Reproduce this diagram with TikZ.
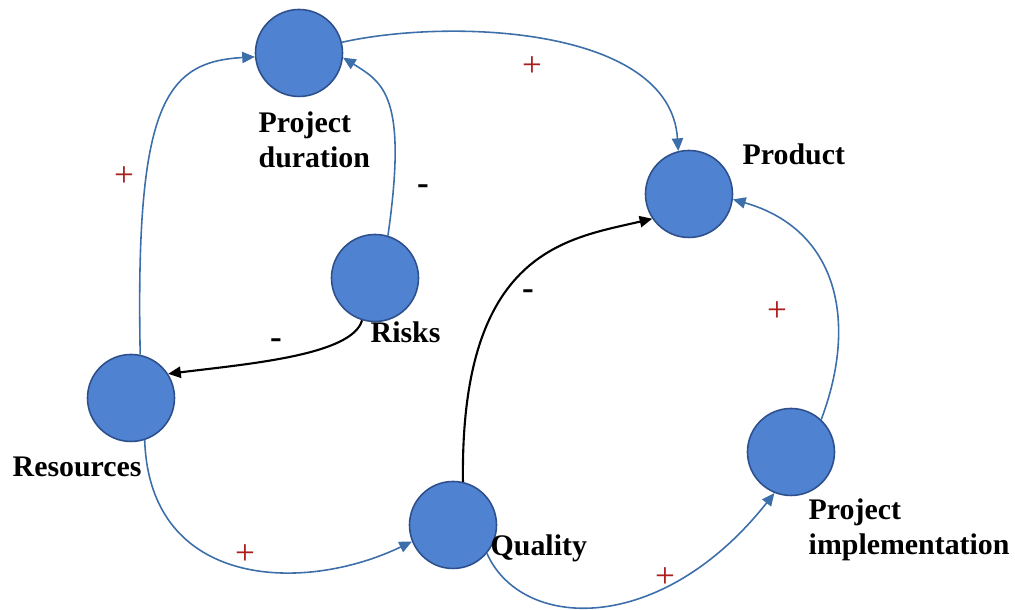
\documentclass[tikz,border=0pt]{standalone}
\usepackage{fontspec}
\setmainfont{Liberation Serif}
\usetikzlibrary{arrows.meta}

\definecolor{nodefill}{RGB}{80,130,210}
\definecolor{nodeline}{RGB}{45,80,140}
\definecolor{linkblue}{RGB}{60,110,170}
\definecolor{signred}{RGB}{170,30,30}

\begin{document}
\begin{tikzpicture}[
    factor/.style={circle, draw=nodeline, fill=nodefill, line width=0.45pt,
      minimum size=0.87cm, inner sep=0},
    poslink/.style={draw=linkblue, line width=0.45pt,
      -{Triangle[length=3.6pt,width=3.2pt]}},
    neglink/.style={draw=black, line width=0.6pt,
      -{Triangle[length=3.6pt,width=3.2pt]}},
    lbl/.style={font=\fontsize{8.5}{10}\selectfont\bfseries, inner sep=0,
      align=left, anchor=base west},
    plus/.style={text=signred, font=\fontsize{10}{10}\selectfont, inner sep=0},
    minus/.style={font=\fontsize{10}{10}\selectfont\bfseries, inner sep=0}
  ]
  \useasboundingbox (0,0) rectangle (10.15,6.10);

  % factors
  \node[factor] (dur)  at (2.99,5.57) {};
  \node[factor] (prod) at (6.89,4.16) {};
  \node[factor] (risk) at (3.75,3.32) {};
  \node[factor] (res)  at (1.31,2.12) {};
  \node[factor] (qual) at (4.53,0.85) {};
  \node[factor] (impl) at (7.91,1.58) {};

  % names (base = last line)
  \node[lbl] (durname)  at (2.58,4.42) {Project\\duration};
  \node[lbl] (prodname) at (7.42,4.45) {Product};
  \node[lbl] (riskname) at (3.70,2.67) {Risks};
  \node[lbl] (resname)  at (0.12,1.33) {Resources};
  \node[lbl] (qualname) at (4.90,0.54) {Quality};
  \node[lbl] (implname) at (8.08,0.55) {Project\\implementation};

  % links
  \draw[poslink] (res.78) .. controls +(-0.05,2.5) and +(-0.9,-0.05) .. (dur.185);
  \draw[poslink] (risk.73) .. controls +(0.2,1.4) and +(0.4,-0.25) .. (dur.354);
  \draw[poslink] (dur.14) .. controls +(1.07,0.24) and +(-0.08,1.25) .. (prod.104);
  \draw[neglink] (risk.253) .. controls +(-0.1,-0.35) and +(0.8,0.1) .. (res.33);
  \draw[neglink] (qual.77) .. controls +(-0.03,2.32) and +(-0.85,-0.2) .. (prod.214);
  \draw[poslink] (res.288) .. controls +(0.05,-1.49) and +(-1.08,-0.52) .. (qual.202);
  \draw[poslink] (qual.320) .. controls +(0.35,-0.78) and +(-1.13,-1.43) .. (impl.248);
  \draw[poslink] (impl.47) .. controls +(0.37,0.98) and +(1.05,-0.3) .. (prod.353);

  % signs
  \node[plus]  (s1) at (1.24,4.33) {+};
  \node[minus] (s2) at (4.23,4.20) {-};
  \node[plus]  (s3) at (5.32,5.43) {+};
  \node[minus] (s4) at (2.76,2.66) {-};
  \node[minus] (s5) at (5.28,3.15) {-};
  \node[plus]  (s6) at (2.45,0.55) {+};
  \node[plus]  (s7) at (6.65,0.32) {+};
  \node[plus]  (s8) at (7.77,2.98) {+};
\end{tikzpicture}
\end{document}
